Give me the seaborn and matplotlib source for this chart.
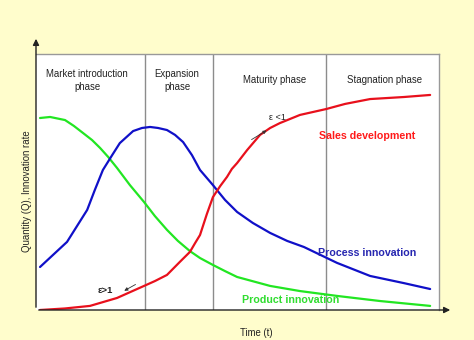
import matplotlib
matplotlib.use("Agg")
import matplotlib.pyplot as plt
import seaborn as sns
import pandas as pd

sns.set_theme(style="white")
plt.rcParams['font.family'] = ['Liberation Sans', 'DejaVu Sans']

# Data (time t in % of the axis, quantity Q in % of the axis)
green_t = [1.0, 3.5, 7.2, 9.4, 11.7, 13.9, 15.9, 17.9, 20.1, 23.3, 26.8, 29.5, 32.5, 35.2, 38.2, 40.7,
           43.9, 46.9, 49.9, 58.1, 65.5, 74.7, 85.4, 97.8]
green_q = [75.0, 75.4, 74.2, 71.9, 69.1, 66.4, 63.3, 59.8, 55.5, 48.8, 42.2, 36.7, 31.3, 27.0, 23.0, 20.3,
           17.6, 15.2, 12.9, 9.4, 7.4, 5.5, 3.5, 1.6]

blue_t = [1.0, 7.7, 12.7, 14.6, 16.6, 18.9, 20.8, 24.1, 26.3, 28.3, 30.3, 32.5, 34.5, 36.5, 38.7, 40.7,
          43.9, 46.9, 49.9, 53.8, 58.1, 62.3, 66.5, 74.7, 82.9, 91.3, 97.8]
blue_q = [16.8, 26.6, 39.1, 46.9, 54.7, 60.5, 65.2, 69.9, 71.1, 71.5, 71.1, 70.3, 68.4, 65.6, 60.5, 54.7,
          48.8, 43.0, 38.3, 34.0, 30.1, 27.0, 24.6, 18.4, 13.3, 10.5, 8.2]

red_t = [1.0, 7.2, 13.4, 20.1, 26.8, 29.5, 32.5, 35.7, 38.2, 39.5, 40.7, 42.4, 43.9, 45.7, 47.4, 48.6,
         49.9, 52.4, 55.6, 58.1, 60.5, 63.0, 65.5, 72.0, 76.7, 82.9, 91.3, 97.8]
red_q = [0.0, 0.6, 1.6, 4.7, 9.4, 11.3, 13.7, 18.8, 22.7, 26.2, 29.3, 37.5, 44.1, 48.4, 52.0, 55.1,
         57.4, 62.5, 68.4, 71.1, 73.0, 74.6, 76.2, 78.5, 80.5, 82.4, 83.2, 84.0]

phase_bounds = [27.0, 43.9, 72.0]
phase_labels = ["Market introduction\nphase", "Expansion\nphase", "Maturity phase", "Stagnation phase"]
phase_label_t = [12.7, 35.0, 59.3, 86.6]

series_labels = ["Sales development", "Process innovation", "Product innovation"]

W, H = 474, 340
fig = plt.figure(figsize=(W / 100, H / 100), dpi=100, facecolor='#FFFDCC')
ax = fig.add_axes([36 / W, (H - 310) / H, 403 / W, 256 / H])
ax.set_facecolor('white')
ax.set_xlim(0, 100)
ax.set_ylim(0, 100)

GREEN = '#22E622'
BLUE = '#1010C8'
RED = '#E8101C'

df_g = pd.DataFrame({'t': green_t, 'q': green_q})
df_b = pd.DataFrame({'t': blue_t, 'q': blue_q})
df_r = pd.DataFrame({'t': red_t, 'q': red_q})
sns.lineplot(data=df_g, x='t', y='q', ax=ax, color=GREEN, lw=1.6, sort=False)
sns.lineplot(data=df_b, x='t', y='q', ax=ax, color=BLUE, lw=1.6, sort=False)
sns.lineplot(data=df_r, x='t', y='q', ax=ax, color=RED, lw=1.6, sort=False)

for b in phase_bounds:
    ax.axvline(b, color='#8c8c8c', lw=1.0, zorder=0)

for lab, t in zip(phase_labels, phase_label_t):
    ax.text(t, 89.8, lab, ha='center', va='center', fontsize=6.9, color='#222222', linespacing=1.4)

ax.text(82.1, 68.0, series_labels[0], ha='center', va='center', fontsize=7.7, fontweight='bold', color='#FF1A1A')
ax.text(82.1, 22.3, series_labels[1], ha='center', va='center', fontsize=7.7, fontweight='bold', color='#2626B0')
ax.text(63.3, 3.9, series_labels[2], ha='center', va='center', fontsize=7.7, fontweight='bold', color='#30DD30', clip_on=False)

ax.text(60.0, 75.0, "ε <1", ha='center', va='center', fontsize=6.5, color='#222222')
ax.annotate("", xy=(57.8, 70.7), xytext=(52.9, 66.0),
            arrowprops=dict(arrowstyle='-|>', color='#333333', lw=0.6, mutation_scale=5))
ax.text(17.1, 7.8, "ε>1", ha='center', va='center', fontsize=6.8, fontweight='bold', color='#222222')
ax.annotate("", xy=(21.3, 7.0), xytext=(25.3, 10.5),
            arrowprops=dict(arrowstyle='-|>', color='#333333', lw=0.6, mutation_scale=5))

ax.set_xticks([])
ax.set_yticks([])
ax.set_xlabel("")
ax.set_ylabel("")
for s in ['top', 'right']:
    ax.spines[s].set_color('#999999')
    ax.spines[s].set_linewidth(1.0)
for s in ['left', 'bottom']:
    ax.spines[s].set_visible(False)

# axis arrows (figure pixel coordinates)
ax.annotate("", xy=(36, H - 36), xytext=(36, H - 310), xycoords='figure pixels', textcoords='figure pixels',
            arrowprops=dict(arrowstyle='-|>', color='#222222', lw=1.0, mutation_scale=9))
ax.annotate("", xy=(453, H - 310), xytext=(36, H - 310), xycoords='figure pixels', textcoords='figure pixels',
            arrowprops=dict(arrowstyle='-|>', color='#222222', lw=1.0, mutation_scale=9))

fig.text(240 / W, 1 - 333 / H, "Time (t)", ha='left', va='center', fontsize=6.9, color='#222222')
fig.text(27 / W, 1 - 191 / H, "Quantity (Q), Innovation rate", ha='center', va='center',
         rotation=90, fontsize=6.9, color='#222222')

fig.savefig('out.png', dpi=100, facecolor=fig.get_facecolor())
